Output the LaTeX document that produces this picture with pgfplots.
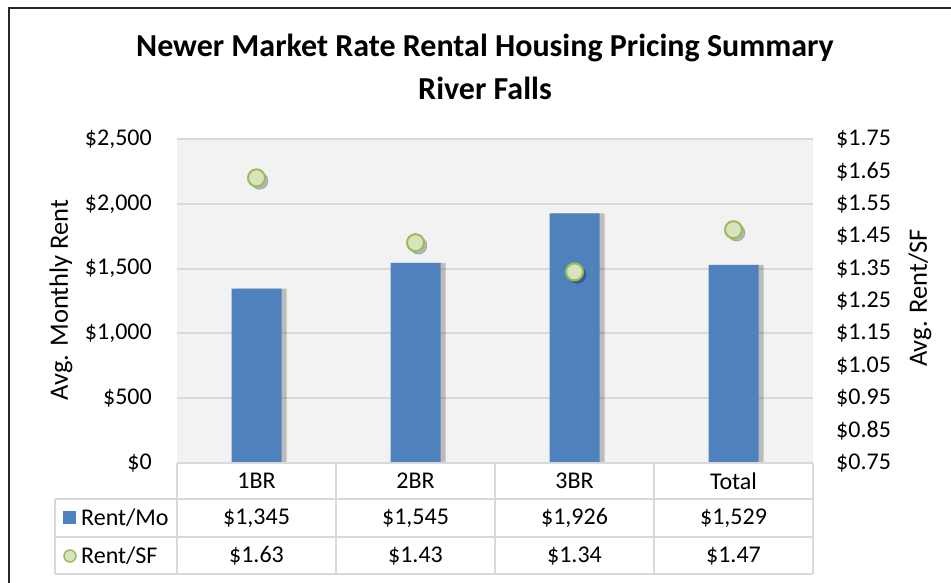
\documentclass[border=0pt]{standalone}
\usepackage{fontspec}
\setmainfont{Carlito}
\usepackage{pgfplots}
\pgfplotsset{compat=1.18}
\definecolor{barblue}{HTML}{4F81BD}
\definecolor{plotbg}{HTML}{F2F2F2}
\definecolor{gridgray}{HTML}{D9D9D9}
\definecolor{markfill}{HTML}{D7E4BD}
\definecolor{markedge}{HTML}{9BBB59}
\begin{document}
\fontsize{24}{29}\selectfont
\begin{tikzpicture}[x=1pt,y=1pt,font=\fontsize{24}{29}\selectfont]
\path[use as bounding box] (0,0) rectangle (951,583);
\begin{axis}[at={(177pt,120pt)}, anchor=south west, scale only axis,
  width=636pt, height=324pt,
  xmin=-0.5, xmax=3.5, ymin=0, ymax=2500,
  axis background/.style={fill=plotbg},
  axis line style={draw=none},
  xtick=\empty,
  ytick={0,500,1000,1500,2000,2500},
  yticklabels={\$0,\$500,\$1{,}000,\$1{,}500,\$2{,}000,\$2{,}500},
  ymajorgrids, grid style={gridgray, line width=2pt},
  major tick length=0pt,
  yticklabel style={inner sep=0pt, xshift=-25pt},
  clip=false]
\addplot[ybar, bar width=50pt, bar shift=5pt, fill=black, draw=none, opacity=0.22] coordinates {(0,1345)(1,1545)(2,1926)(3,1529)};
\addplot[ybar, bar width=50pt, bar shift=0pt, fill=barblue, draw=none] coordinates {(0,1345)(1,1545)(2,1926)(3,1529)};
\end{axis}
\begin{axis}[at={(177pt,120pt)}, anchor=south west, scale only axis,
  width=636pt, height=324pt,
  xmin=-0.5, xmax=3.5, ymin=0.75, ymax=1.75,
  axis y line*=right, axis x line=none,
  axis line style={draw=none},
  ytick={0.75,0.85,0.95,1.05,1.15,1.25,1.35,1.45,1.55,1.65,1.75},
  yticklabels={\$0.75,\$0.85,\$0.95,\$1.05,\$1.15,\$1.25,\$1.35,\$1.45,\$1.55,\$1.65,\$1.75},
  major tick length=0pt,
  yticklabel style={inner sep=0pt, xshift=23pt},
  clip=false]
\addplot[only marks, mark=*, mark size=8.5pt, mark options={fill=black, draw=none, opacity=0.25, xshift=3pt, yshift=-3pt}] coordinates {(0,1.63)(1,1.43)(2,1.34)(3,1.47)};
\addplot[only marks, mark=*, mark size=8.5pt, mark options={fill=markfill, draw=markedge, line width=2pt}] coordinates {(0,1.63)(1,1.43)(2,1.34)(3,1.47)};
\end{axis}
% table
\begin{scope}[draw=gridgray, line width=2pt]
\draw (177,120) -- (813,120);
\draw (55,84) -- (813,84);
\draw (55,46) -- (813,46);
\draw (55,9) -- (813,9);
\draw (55,84) -- (55,9);
\foreach \x in {177,336,495,654,813} \draw (\x,120) -- (\x,9);
\end{scope}
\foreach \x/\a/\b/\c in {256.5/1BR/\$1{,}345/\$1.63, 415.5/2BR/\$1{,}545/\$1.43, 574.5/3BR/\$1{,}926/\$1.34, 733.5/Total/\$1{,}529/\$1.47}{
  \node at (\x,102) {\a};
  \node at (\x,65) {\b};
  \node at (\x,27) {\c};
}
\fill[barblue] (63,59) rectangle (76,72);
\node[anchor=west, inner sep=0pt] at (81,65) {Rent/Mo};
\draw[markedge, fill=markfill, line width=1.5pt] (70,27) circle (6);
\node[anchor=west, inner sep=0pt] at (81,27) {Rent/SF};
% axis titles
\node[rotate=90, font=\fontsize{26.5}{31}\selectfont] at (61,283) {Avg. Monthly Rent};
\node[rotate=90, font=\fontsize{26.5}{31}\selectfont] at (920,285) {Avg. Rent/SF};
% title
\node[font=\fontsize{32}{38}\selectfont\bfseries] at (485,535) {Newer Market Rate Rental Housing Pricing Summary};
\node[font=\fontsize{32}{38}\selectfont\bfseries] at (485,495) {River Falls};
% frame
\draw[line width=2pt, black!85] (9,0) -- (9,575) -- (951,575);
\end{tikzpicture}
\end{document}
